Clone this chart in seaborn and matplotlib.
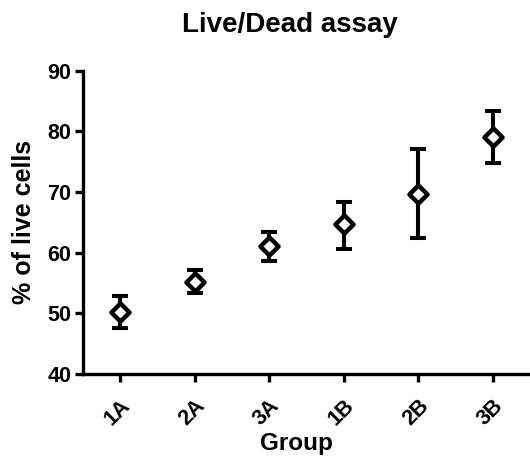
import numpy as np
import pandas as pd
import matplotlib
matplotlib.use("Agg")
import matplotlib.pyplot as plt
import seaborn as sns

groups = ["1A", "2A", "3A", "1B", "2B", "3B"]
mean_live = [50.3, 55.1, 61.1, 64.7, 69.7, 79.1]
err_low = [47.6, 53.3, 58.7, 60.6, 62.4, 74.8]
err_high = [52.9, 57.1, 63.4, 68.4, 77.1, 83.4]

data = pd.DataFrame({"Group": groups, "live": mean_live})

sns.set_style("ticks")
plt.rcParams["font.family"] = ["Liberation Sans", "DejaVu Sans"]
plt.rcParams["font.weight"] = "bold"
plt.rcParams["text.color"] = "black"
plt.rcParams["axes.labelcolor"] = "black"

fig = plt.figure(figsize=(5.3, 4.58), dpi=100)
ax = fig.add_axes([0.156, 0.183, 0.844, 0.663])

yerr = [np.array(mean_live) - np.array(err_low), np.array(err_high) - np.array(mean_live)]
ax.errorbar(data["Group"], data["live"], yerr=yerr, fmt="none", ecolor="black",
            elinewidth=2.9, capsize=6, capthick=2.9, zorder=2)
sns.scatterplot(data=data, x="Group", y="live", marker="D", s=85, color="white",
                edgecolor="black", linewidth=3.2, ax=ax, zorder=3)

ax.set_xlim(-0.5, 5.5)
ax.set_ylim(40, 90)
ax.set_yticks([40, 50, 60, 70, 80, 90])
sns.despine(ax=ax)
for s in ["left", "bottom"]:
    ax.spines[s].set_linewidth(2.4)
    ax.spines[s].set_color("black")
ax.tick_params(width=2.4, length=6, labelsize=15.5, colors="black", pad=2)
ax.tick_params(axis="x", pad=9)
plt.setp(ax.get_xticklabels(), rotation=45, ha="right", rotation_mode="anchor", fontweight="bold")
plt.setp(ax.get_yticklabels(), fontweight="bold")

ax.set_xlabel("Group", fontsize=17.5, fontweight="bold")
ax.xaxis.set_label_coords(0.478, -0.19)
ax.set_ylabel("% of live cells", fontsize=18, fontweight="bold", labelpad=8)
fig.text(0.547, 0.945, "Live/Dead assay", fontsize=20, fontweight="bold",
         ha="center", va="center")

fig.savefig("out.png", dpi=100)
